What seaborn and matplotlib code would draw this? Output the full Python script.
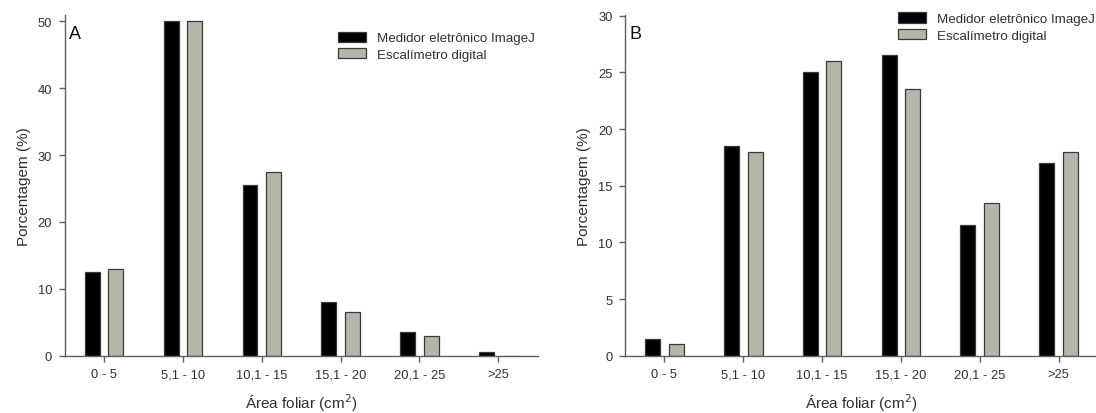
import pandas as pd
import seaborn as sns
import matplotlib.pyplot as plt

# dados
classes = ['0 - 5', '5,1 - 10', '10,1 - 15', '15,1 - 20', '20,1 - 25', '>25']
metodos = ['Medidor eletrônico ImageJ', 'Escalímetro digital']
imagej_a = [12.5, 50.0, 25.5, 8.0, 3.5, 0.5]
escal_a = [13.0, 50.0, 27.5, 6.5, 3.0, 0.0]
imagej_b = [1.5, 18.5, 25.0, 26.5, 11.5, 17.0]
escal_b = [1.0, 18.0, 26.0, 23.5, 13.5, 18.0]

cores = ['#000000', '#b5b5a9']
cor_eixo = '#606060'
cor_texto = '#303030'


def monta_df(v1, v2):
    return pd.DataFrame({
        'classe': classes * 2,
        'metodo': [metodos[0]] * len(classes) + [metodos[1]] * len(classes),
        'pct': list(v1) + list(v2),
    })


sns.set_style('ticks')
plt.rcParams['font.family'] = ['Liberation Sans', 'DejaVu Sans']

fig = plt.figure(figsize=(10.96, 4.14), dpi=100)
W, H = 1096, 414
ax_a = fig.add_axes([64.7 / W, 1 - 356.7 / H, 473 / W, 341 / H])
ax_b = fig.add_axes([625 / W, 1 - 356.7 / H, 473 / W, 341 / H])

paineis = [
    (ax_a, imagej_a, escal_a, 'A', 51, range(0, 51, 10), (0.578, 0.95)),
    (ax_b, imagej_b, escal_b, 'B', 30.1, range(0, 31, 5), (0.577, 1.007)),
]

for ax, v1, v2, letra, ymax, yticks, leg_pos in paineis:
    df = monta_df(v1, v2)
    sns.barplot(data=df, x='classe', y='pct', hue='metodo', palette=cores,
                width=0.6, gap=0.37, edgecolor='#3a3a3a', linewidth=0.9,
                saturation=1, ax=ax)
    ax.set_xlim(-0.5, 5.5)
    ax.set_ylim(0, ymax)
    ax.set_yticks(list(yticks))
    for s in ['top', 'right']:
        ax.spines[s].set_visible(False)
    for s in ['left', 'bottom']:
        ax.spines[s].set_color(cor_eixo)
        ax.spines[s].set_linewidth(1.0)
    ax.tick_params(axis='both', direction='out', length=4, width=1.0,
                   color=cor_eixo, labelsize=9.3, labelcolor=cor_texto, pad=5)
    ax.set_xlabel('Área foliar (cm$^2$)', fontsize=11, color=cor_texto, labelpad=8)
    ax.set_ylabel('Porcentagem (%)', fontsize=11, color=cor_texto, labelpad=5)
    ax.text(0.01, 0.97, letra, transform=ax.transAxes, fontsize=13,
            color='#101010', va='top', ha='left')
    handles, labels = ax.get_legend_handles_labels()
    ax.legend(handles, labels, loc='upper left', bbox_to_anchor=leg_pos,
              frameon=False, fontsize=9.6, handlelength=2.1, handleheight=0.8,
              handletextpad=0.85, labelspacing=0.28, borderpad=0, borderaxespad=0,
              labelcolor=cor_texto)

fig.savefig('out.png', dpi=100)
